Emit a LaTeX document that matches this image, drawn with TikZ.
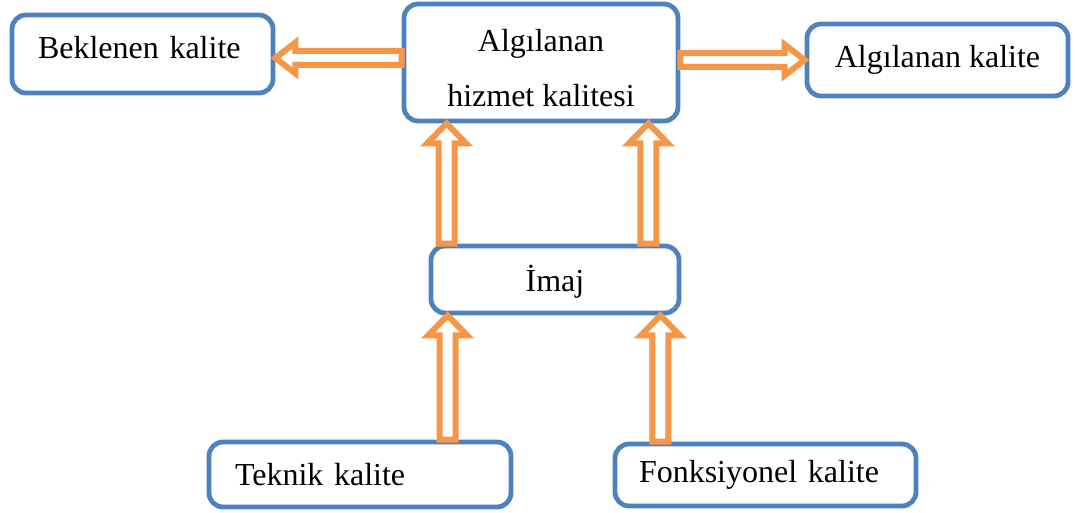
\documentclass[tikz,border=0pt]{standalone}
\usepackage{fontspec}
\setmainfont{Liberation Serif}
\usetikzlibrary{calc}
\definecolor{kenar}{HTML}{4F81BD}
\definecolor{turuncu}{HTML}{F79646}

\begin{document}
\begin{tikzpicture}[
        x=0.5pt, y=-0.5pt,
        kutu/.style={rectangle, draw=kenar, line width=2.4pt, rounded corners=7pt,
          fill=white, inner sep=0pt, align=center, font=\fontsize{16}{27.5}\selectfont},
        solkutu/.style={kutu, align=left},
        blok/.style 2 args={draw=turuncu, line width=3pt, fill=white,
          to path={let \p1=(\tikztostart), \p2=(\tikztotarget),
            \n1={veclen(\x2-\x1,\y2-\y1)}, \n2={(\x2-\x1)/\n1}, \n3={(\y2-\y1)/\n1},
            \p3=({\x2-\n2*10pt},{\y2-\n3*10pt}) in
            ({\x1-\n3*#1},{\y1+\n2*#1}) -- ({\x3-\n3*#1},{\y3+\n2*#1})
            -- ({\x3-\n3*#2},{\y3+\n2*#2}) -- (\p2)
            -- ({\x3+\n3*#2},{\y3-\n2*#2}) -- ({\x3+\n3*#1},{\y3-\n2*#1})
            -- ({\x1+\n3*#1},{\y1-\n2*#1}) -- cycle}},
      ]
      \useasboundingbox (0,0) rectangle (1075,513);
      \node[solkutu, minimum width=130.5pt, minimum height=39pt, inner xsep=13pt,
        text width=104.5pt, text height=11pt, text depth=6pt] (beklenen) at (142.5,54) {Beklenen kalite};
      \node[kutu, minimum width=137pt, minimum height=58.5pt, text height=44.5pt] (hizmet) at (541,62.5) {Algılanan\\hizmet kalitesi};
      \node[kutu, minimum width=130.5pt, minimum height=36pt] (algilanan) at (937.5,60) {Algılanan kalite};
      \node[kutu, minimum width=124pt, minimum height=33.5pt, text height=15pt] (imaj) at (555,279.5) {İmaj};
      \node[solkutu, minimum width=151pt, minimum height=32.5pt, inner xsep=13pt,
        text width=125pt] (teknik) at (360,474.5) {Teknik kalite};
      \node[solkutu, minimum width=150.5pt, minimum height=31pt, inner xsep=12pt,
        text width=126.5pt] (fonksiyonel) at (765.5,475) {Fonksiyonel kalite};

      \coordinate (sol) at ([yshift=-2pt]beklenen.east);
      \coordinate (ust1) at ([xshift=9pt]imaj.north west);
      \coordinate (ust2) at ([xshift=-16.5pt]imaj.north east);
      \coordinate (alt1) at ([xshift=9.5pt]imaj.south west);
      \coordinate (alt2) at ([xshift=-10.5pt]imaj.south east);

      \draw[blok={3.5pt}{7.75pt}] (hizmet.west |- sol) to (sol);
      \draw[blok={3.5pt}{7.75pt}] (hizmet.east |- algilanan.west) to (algilanan.west);
      \draw[blok={4pt}{9.75pt}] (ust1) to (ust1 |- hizmet.south);
      \draw[blok={4pt}{9.75pt}] (ust2) to (ust2 |- hizmet.south);
      \draw[blok={4pt}{9.75pt}] (alt1 |- teknik.north) to (alt1);
      \draw[blok={4pt}{9.75pt}] (alt2 |- fonksiyonel.north) to (alt2);
\end{tikzpicture}
\end{document}
